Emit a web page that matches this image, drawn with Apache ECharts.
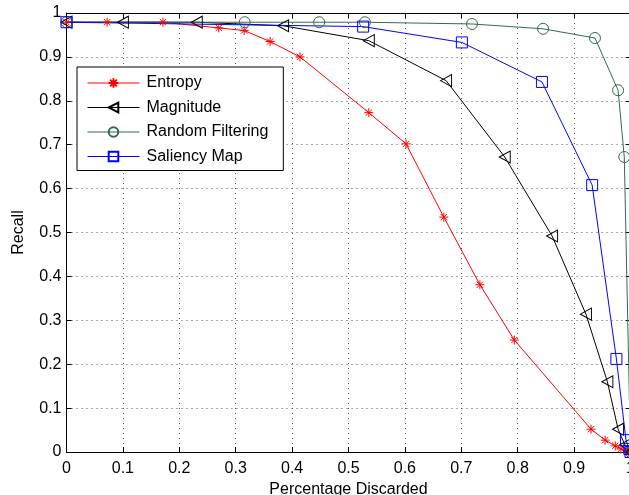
<!DOCTYPE html>
<html lang="en">
<head>
    <meta charset="UTF-8">
    <title>Recall vs Percentage Discarded</title>
    <script type="text/javascript" src="https://cdn.jsdelivr.net/npm/echarts@6/dist/echarts.min.js"></script>
    <style>
        html, body { margin: 0; padding: 0; background: #fff; }
        #main { width: 629px; height: 495px; }
    </style>
</head>
<body>
<div id="main"></div>
<script type="text/javascript">

    // values, [percentage discarded, recall]
    var entropyData = [
        [0, 0.979], [0.072, 0.979], [0.171, 0.979], [0.270, 0.966], [0.315, 0.960],
        [0.361, 0.935], [0.414, 0.900], [0.536, 0.773], [0.602, 0.702], [0.669, 0.535],
        [0.733, 0.381], [0.794, 0.255], [0.930, 0.052], [0.955, 0.027], [0.973, 0.014],
        [0.983, 0.007], [0.996, 0]
    ];
    var magnitudeData = [
        [0, 0.979], [0.100, 0.979], [0.231, 0.979], [0.384, 0.971], [0.536, 0.937],
        [0.673, 0.846], [0.777, 0.672], [0.861, 0.492], [0.921, 0.314], [0.959, 0.160],
        [0.978, 0.052], [0.990, 0.016], [1.0, 0]
    ];
    var randomData = [
        [0, 0.979], [0.316, 0.979], [0.448, 0.979], [0.529, 0.979], [0.719, 0.975],
        [0.845, 0.964], [0.937, 0.943], [0.978, 0.824], [0.989, 0.672], [1.0, 0]
    ];
    var saliencyData = [
        [0, 0.979], [0.526, 0.969], [0.701, 0.933], [0.843, 0.843], [0.932, 0.608],
        [0.975, 0.212], [0.992, 0.027], [0.998, 0.007], [1.0, 0]
    ];
    var seriesNames = ['Entropy', 'Magnitude', 'Random Filtering', 'Saliency Map'];

    var font = "'Liberation Sans', Arial, Helvetica, sans-serif";
    var starPath = 'path://M5 0 L5 10 M0 5 L10 5 M1.5 1.5 L8.5 8.5 M8.5 1.5 L1.5 8.5';
    var trianglePath = 'path://M0 5 L10 0 L10 10 Z';
    var circlePath = 'path://M10 5 A5 5 0 1 1 0 5 A5 5 0 1 1 10 5 Z';
    var squarePath = 'path://M0 0 L10 0 L10 10 L0 10 Z';

    function makeSeries(name, data, color, symbol, size) {
        return {
            name: name,
            type: 'line',
            data: data,
            symbol: symbol,
            symbolSize: size,
            showAllSymbol: true,
            animation: false,
            color: color,
            lineStyle: { color: color, width: 1 },
            itemStyle: { color: 'transparent', borderColor: color, borderWidth: 1 },
            emphasis: { disabled: true }
        };
    }

    var myChart = echarts.init(document.getElementById('main'));

    var axisBase = {
        type: 'value',
        min: 0,
        max: 1,
        interval: 0.1,
        axisLine: { show: true, onZero: false, lineStyle: { color: '#000', width: 1 } },
        axisTick: { show: true, inside: true, length: 5, lineStyle: { color: '#000' } },
        axisLabel: { show: false },
        splitLine: { show: false }
    };

    var option = {
        backgroundColor: '#fff',
        animation: false,
        grid: { left: 66.5, top: 13, width: 564, height: 439, containLabel: false, outerBoundsMode: 'none' },
        legend: {
            orient: 'vertical',
            left: 77,
            top: 67,
            data: seriesNames,
            itemWidth: 52,
            itemHeight: 12,
            itemGap: 8.5,
            padding: [8, 15, 6, 10],
            backgroundColor: '#fff',
            borderColor: '#000',
            borderWidth: 1,
            borderRadius: 0,
            lineStyle: { width: 1 },
            textStyle: { fontFamily: font, fontSize: 16, color: '#000', lineHeight: 16, padding: [0, 0, 0, 2] }
        },
        xAxis: [
            Object.assign({}, axisBase, {
                position: 'bottom',
                name: 'Percentage Discarded',
                nameLocation: 'middle',
                nameGap: 30,
                nameTextStyle: { fontFamily: font, fontSize: 16, color: '#000' },
                axisLabel: {
                    show: true, fontFamily: font, fontSize: 16, color: '#000', margin: 9,
                    formatter: function (v) { return +v.toFixed(1) + ''; }
                },
                splitLine: { show: true, lineStyle: { color: '#555', width: 1, type: [1, 4] } }
            }),
            Object.assign({}, axisBase, { position: 'top' })
        ],
        yAxis: [
            Object.assign({}, axisBase, {
                position: 'left',
                name: 'Recall',
                nameLocation: 'middle',
                nameGap: 40,
                nameTextStyle: { fontFamily: font, fontSize: 16, color: '#000' },
                axisLabel: {
                    show: true, fontFamily: font, fontSize: 16, color: '#000', margin: 5,
                    formatter: function (v) { return +v.toFixed(1) + ''; }
                },
                splitLine: { show: true, lineStyle: { color: '#555', width: 1, type: [1, 4] } }
            }),
            Object.assign({}, axisBase, { position: 'right' })
        ],
        series: [
            makeSeries(seriesNames[0], entropyData, '#ff0000', starPath, 9),
            makeSeries(seriesNames[1], magnitudeData, '#000000', trianglePath, [11, 12]),
            makeSeries(seriesNames[2], randomData, '#35694f', circlePath, 11),
            makeSeries(seriesNames[3], saliencyData, '#0000ff', squarePath, 11)
        ]
    };

    myChart.setOption(option);
</script>
</body>
</html>
